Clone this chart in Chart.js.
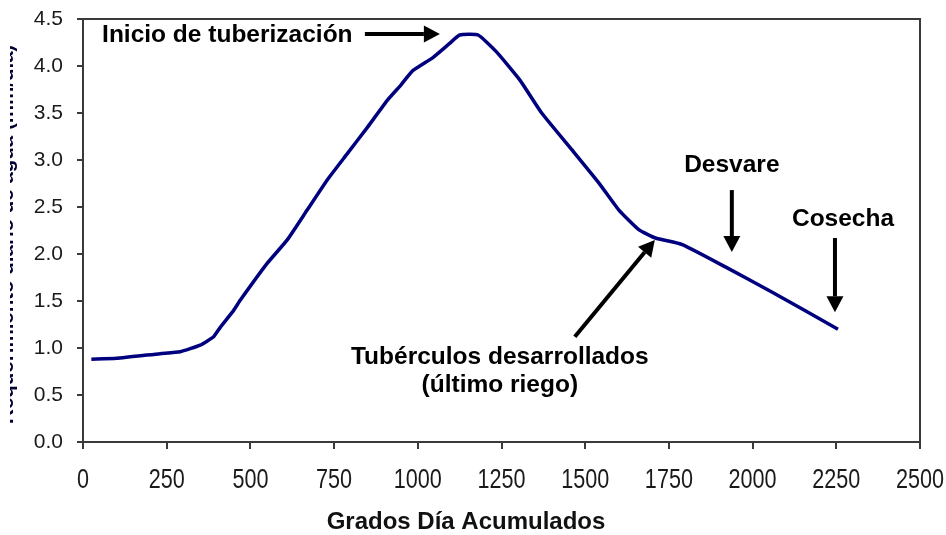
<!DOCTYPE html>
<html>
<head>
<meta charset="utf-8">
<script src="https://cdn.jsdelivr.net/npm/chart.js@4.4.1/dist/chart.umd.min.js"></script>
<style>
  body { margin: 0; background: #fff; }
  .chart-box { width: 946px; height: 535px; position: relative; }
</style>
</head>
<body>
<div class="chart-box"><canvas id="gdaChart"></canvas></div>
<script>
// data
const gradosDia = [25, 100, 230, 290, 350, 390, 410, 450, 470, 550, 610, 670, 730, 790, 850, 910, 950, 985, 1045, 1095, 1125, 1180, 1235, 1305, 1370, 1460, 1540, 1600, 1660, 1710, 1790, 1920, 2060, 2255];
const valores = [0.88, 0.89, 0.94, 0.96, 1.03, 1.12, 1.22, 1.40, 1.51, 1.90, 2.15, 2.47, 2.79, 3.07, 3.35, 3.64, 3.80, 3.95, 4.09, 4.24, 4.33, 4.33, 4.15, 3.85, 3.50, 3.11, 2.76, 2.47, 2.26, 2.17, 2.10, 1.86, 1.59, 1.20];
const xTicks = [0, 250, 500, 750, 1000, 1250, 1500, 1750, 2000, 2250, 2500];
const yTicks = [0, 0.5, 1, 1.5, 2, 2.5, 3, 3.5, 4, 4.5];

const xTitle = "Grados Día Acumulados";
const yTitle = "Requerimiento diario de agua (mm/día)";

// annotation labels and arrows, in data units (x = grados día, y = value)
const notas = [
  { text: ["Inicio de tuberización"], x: 57, y: 4.33, align: "left" },
  { text: ["Tubérculos desarrollados", "(último riego)"], x: 1245, y: 0.90, align: "center" },
  { text: ["Desvare"], x: 1938, y: 2.94, align: "center" },
  { text: ["Cosecha"], x: 2270, y: 2.37, align: "center" }
];
const flechas = [
  { from: [842, 4.34], to: [1066, 4.34] },
  { from: [1469, 1.12], to: [1708, 2.15] },
  { from: [1938, 2.68], to: [1938, 2.02] },
  { from: [2246, 2.17], to: [2246, 1.38] }
];

const points = gradosDia.map((g, i) => ({ x: g, y: valores[i] }));

function drawArrow(ctx, x1, y1, x2, y2) {
  const ang = Math.atan2(y2 - y1, x2 - x1);
  const headLen = 16, headW = 8.5;
  const bx = x2 - headLen * Math.cos(ang);
  const by = y2 - headLen * Math.sin(ang);
  ctx.beginPath();
  ctx.moveTo(x1, y1);
  ctx.lineTo(bx, by);
  ctx.lineWidth = 4;
  ctx.strokeStyle = "#000";
  ctx.stroke();
  ctx.beginPath();
  ctx.moveTo(x2, y2);
  ctx.lineTo(bx + headW * Math.sin(ang), by - headW * Math.cos(ang));
  ctx.lineTo(bx - headW * Math.sin(ang), by + headW * Math.cos(ang));
  ctx.closePath();
  ctx.fillStyle = "#000";
  ctx.fill();
}

const extras = {
  id: "extras",
  afterDraw(chart) {
    const ctx = chart.ctx;
    const xs = chart.scales.x, ys = chart.scales.y;
    const area = chart.chartArea;

    // frame on top and right
    ctx.save();
    ctx.strokeStyle = "#3a3a3a";
    ctx.lineWidth = 2;
    ctx.beginPath();
    ctx.moveTo(area.left, area.top);
    ctx.lineTo(area.right, area.top);
    ctx.lineTo(area.right, area.bottom);
    ctx.stroke();

    // x tick labels, condensed like the reference
    ctx.fillStyle = "#1a1a1a";
    ctx.font = "27px 'Liberation Sans', Arial, sans-serif";
    ctx.textAlign = "center";
    ctx.textBaseline = "alphabetic";
    xTicks.forEach(v => {
      ctx.save();
      ctx.translate(xs.getPixelForValue(v), area.bottom + 46);
      ctx.scale(0.8, 1);
      ctx.fillText(String(v), 0, 0);
      ctx.restore();
    });

    ctx.fillStyle = "#000";
    ctx.font = "bold 24.5px 'Liberation Sans', Arial, sans-serif";
    ctx.textBaseline = "middle";
    notas.forEach(n => {
      ctx.textAlign = n.align;
      const px = xs.getPixelForValue(n.x);
      const py = ys.getPixelForValue(n.y);
      n.text.forEach((line, i) => ctx.fillText(line, px, py + i * 28));
    });

    flechas.forEach(f => {
      drawArrow(ctx,
        xs.getPixelForValue(f.from[0]), ys.getPixelForValue(f.from[1]),
        xs.getPixelForValue(f.to[0]), ys.getPixelForValue(f.to[1]));
    });

    // x axis title, sits a little left of centre in the reference
    ctx.textAlign = "center";
    ctx.font = "bold 24px 'Liberation Sans', Arial, sans-serif";
    ctx.fillStyle = "#111";
    ctx.fillText(xTitle, xs.getPixelForValue(1144), ys.getPixelForValue(-0.85));

    // y axis title, mostly cropped away like the reference
    ctx.beginPath();
    ctx.rect(10, 0, 20, chart.height);
    ctx.clip();
    ctx.translate(13, ys.getPixelForValue(2.21));
    ctx.rotate(-Math.PI / 2);
    ctx.textAlign = "center";
    ctx.textBaseline = "alphabetic";
    ctx.font = "bold 20.5px 'Liberation Sans', Arial, sans-serif";
    ctx.fillStyle = "#000033";
    ctx.fillText(yTitle, 0, 0);
    ctx.restore();
  }
};

const ctxGda = document.getElementById("gdaChart").getContext("2d");
const gdaChart = new Chart(ctxGda, {
  type: "line",
  data: {
    datasets: [{
      data: points,
      borderColor: "#00007f",
      borderWidth: 3.5,
      pointRadius: 0,
      fill: false,
      tension: 0.15
    }]
  },
  options: {
    responsive: true,
    maintainAspectRatio: false,
    animation: false,
    layout: { padding: { left: 0, right: 26, top: 19, bottom: 0 } },
    plugins: {
      legend: { display: false },
      tooltip: { enabled: false }
    },
    scales: {
      x: {
        type: "linear",
        min: 0,
        max: 2500,
        afterBuildTicks: (scale) => { scale.ticks = xTicks.map(v => ({ value: v })); },
        afterFit: (scale) => {
          scale.height = 93;
          scale.paddingLeft = 0;
          scale.paddingRight = 0;
        },
        grid: { drawOnChartArea: false, drawTicks: true, tickLength: 7, color: "#3a3a3a", lineWidth: 2 },
        border: { display: true, color: "#3a3a3a", width: 2 },
        ticks: { display: false }
      },
      y: {
        min: 0,
        max: 4.5,
        afterBuildTicks: (scale) => { scale.ticks = yTicks.map(v => ({ value: v })); },
        afterFit: (scale) => {
          scale.width = 83;
          scale.paddingTop = 0;
          scale.paddingBottom = 0;
        },
        grid: { drawOnChartArea: false, drawTicks: true, tickLength: 6, color: "#3a3a3a", lineWidth: 2 },
        border: { display: true, color: "#3a3a3a", width: 2 },
        ticks: {
          color: "#1a1a1a",
          padding: 14,
          callback: (v) => Number(v).toFixed(1),
          font: { family: "'Liberation Sans', Arial, sans-serif", size: 21 }
        }
      }
    }
  },
  plugins: [extras]
});
</script>
</body>
</html>
